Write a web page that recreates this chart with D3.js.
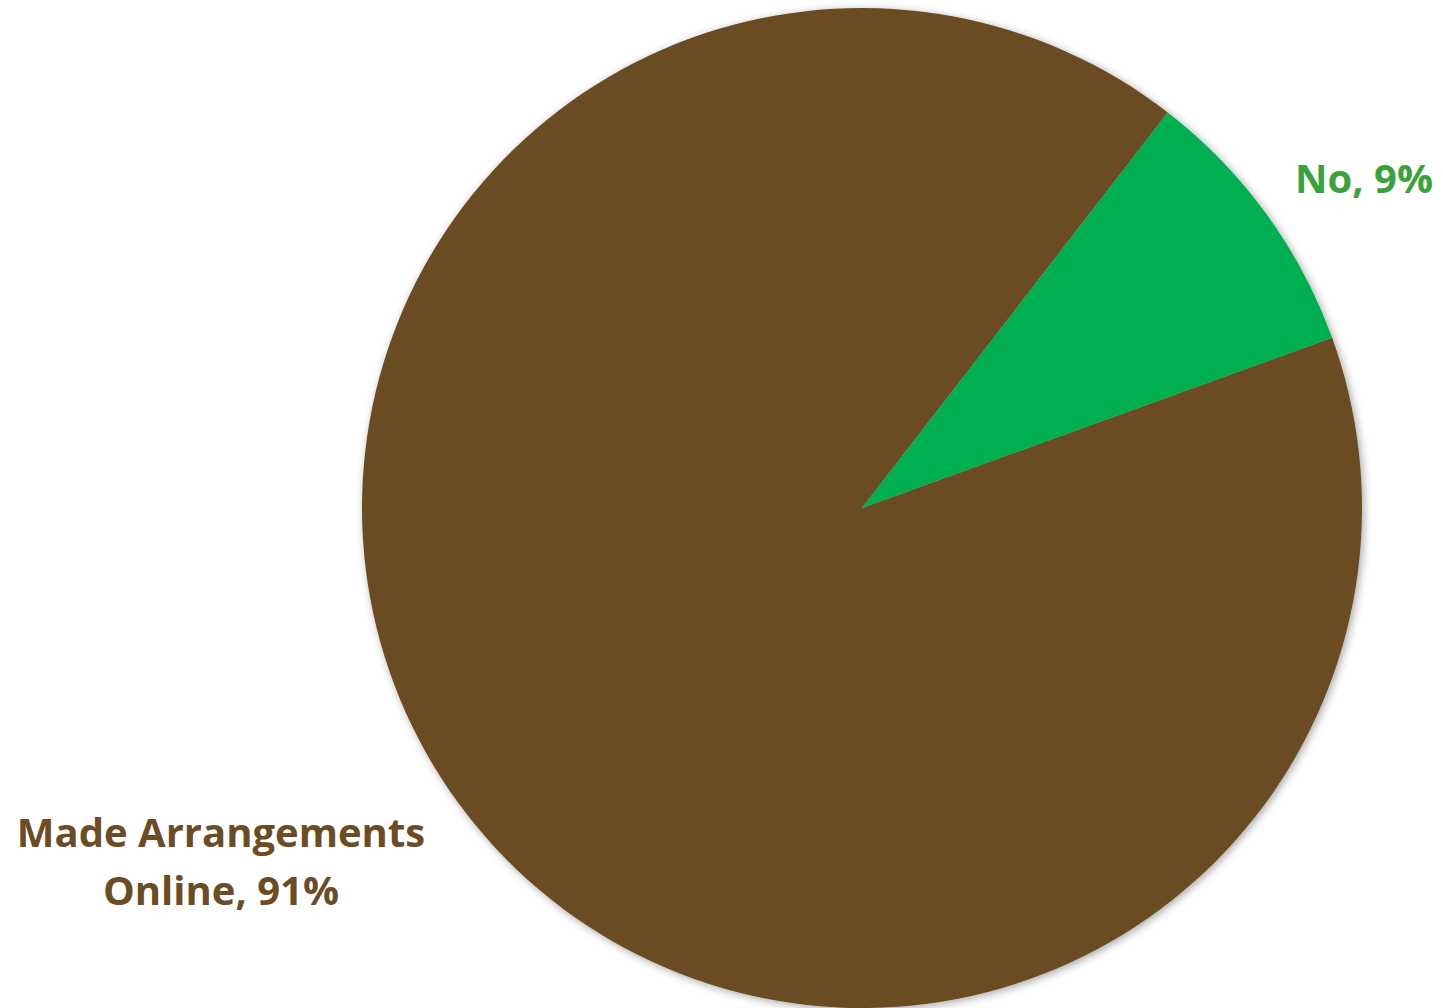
<!DOCTYPE html>
<html>
<head>
<meta charset="utf-8">
<script src="https://cdn.jsdelivr.net/npm/d3@7"></script>
<style>
  body { margin: 0; background: #fff; }
  text { font-family: "Open Sans", "Noto Sans", sans-serif; font-weight: bold; }
</style>
</head>
<body>
<div class="container"></div>
<script>
var categories = ['Made Arrangements Online', 'No'];
var values = [91, 9];
var labelLines = [['Made Arrangements', 'Online, 91%'], ['No, 9%']];

const WIDTH = 1443;
const HEIGHT = 1008;
const CX = 862;
const CY = 508;
const RADIUS = 500;

var colors = d3.scaleOrdinal().domain(categories).range(['#6b4c24', '#00af50']);
var textColors = d3.scaleOrdinal().domain(categories).range(['#6b4c24', '#3aa23a']);

var svg = d3.select('.container').append('svg')
    .attr('width', WIDTH)
    .attr('height', HEIGHT);

var defs = svg.append('defs');
var filter = defs.append('filter').attr('id', 'shadow')
    .attr('x', '-10%').attr('y', '-10%').attr('width', '120%').attr('height', '120%');
filter.append('feDropShadow')
    .attr('dx', 2).attr('dy', 2).attr('stdDeviation', 4)
    .attr('flood-color', '#000').attr('flood-opacity', 0.35);

// start angle chosen so the "No" slice sits upper right (~37deg to ~70deg)
var startAngle = 70.1 * Math.PI / 180;
var pie = d3.pie().sort(null)
    .startAngle(startAngle)
    .endAngle(startAngle + 2 * Math.PI);

var arc = d3.arc().innerRadius(0).outerRadius(RADIUS);

var chart = svg.append('g')
    .attr('transform', 'translate(' + CX + ', ' + CY + ')');

chart.append('g').attr('filter', 'url(#shadow)')
    .selectAll('path').data(pie(values))
    .enter().append('path')
    .attr('d', arc)
    .attr('fill', function (d, i) { return colors(categories[i]); });

// data labels (positions in page coordinates, as placed in the original)
var labelPos = [[221, 847], [1364, 193]];
var lineHeight = 58;

svg.selectAll('.label').data(categories)
    .enter().append('text')
    .attr('class', 'label')
    .attr('text-anchor', 'middle')
    .attr('fill', function (d) { return textColors(d); })
    .style('font-size', '40px')
    .each(function (d, i) {
        var t = d3.select(this);
        labelLines[i].forEach(function (line, j) {
            t.append('tspan')
                .attr('x', labelPos[i][0])
                .attr('y', labelPos[i][1] + j * lineHeight)
                .text(line);
        });
    });
</script>
</body>
</html>
